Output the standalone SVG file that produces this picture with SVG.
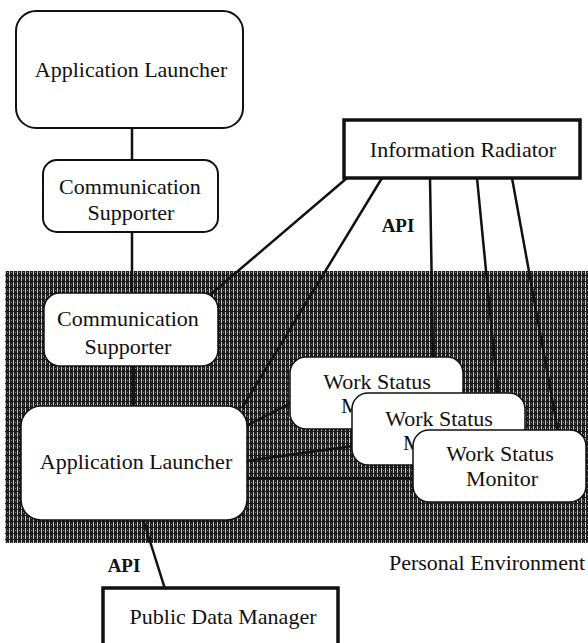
<svg xmlns="http://www.w3.org/2000/svg" width="588" height="643" viewBox="0 0 588 643">
<defs>
<pattern id="hatch" x="0" y="0" width="4" height="6" patternUnits="userSpaceOnUse">
<rect width="4" height="6" fill="#1c1c1c"/>
<rect x="1" y="0" width="1" height="5" fill="#c8c8c8"/>
<rect x="3" y="2" width="1" height="1" fill="#8a8a8a"/>
</pattern>
</defs>
<style>
.t{font-family:"Liberation Serif","Times New Roman",serif;font-size:22px;fill:#111;text-anchor:middle}
.api{font-family:"Liberation Serif","Times New Roman",serif;font-size:19px;font-weight:bold;fill:#111;text-anchor:middle}
.rb{fill:#fff;stroke:#111;stroke-width:2}
.rs{fill:#fff;stroke:#111;stroke-width:1.5}
.sq{fill:#fff;stroke:#111;stroke-width:3.5}
.c{stroke:#111;stroke-width:2.5;fill:none}
</style>
<rect width="588" height="643" fill="#fff"/>
<g id="personal-environment">
<rect x="5" y="271" width="583" height="272" fill="url(#hatch)"/>
<text class="t" x="487" y="570">Personal Environment</text>
</g>
<g id="connectors">
<line class="c" x1="132" y1="128" x2="132" y2="160"/>
<line class="c" x1="132" y1="232" x2="132" y2="294"/>
<line class="c" x1="133" y1="366" x2="133" y2="407"/>
<line class="c" x1="347" y1="178" x2="211" y2="294"/>
<line class="c" x1="382" y1="178" x2="242" y2="408"/>
<line class="c" x1="430" y1="178" x2="433" y2="358"/>
<line class="c" x1="477" y1="178" x2="498" y2="394"/>
<line class="c" x1="512" y1="178" x2="558" y2="431"/>
<line class="c" x1="246" y1="426" x2="291" y2="403"/>
<line class="c" x1="246" y1="461" x2="353" y2="446"/>
<line class="c" x1="246" y1="478" x2="414" y2="478"/>
<line class="c" x1="143" y1="519" x2="165" y2="589"/>
<text class="api" x="398" y="232">API</text>
<text class="api" x="124" y="572">API</text>
</g>
<g id="app-launcher-top">
<rect class="rb" x="16" y="11" width="227" height="117" rx="20"/>
<text class="t" x="131" y="77">Application Launcher</text>
</g>
<g id="comm-supporter-top">
<rect class="rb" x="43" y="160" width="175" height="72" rx="14"/>
<text class="t" x="130" y="194">Communication</text>
<text class="t" x="131" y="220">Supporter</text>
</g>
<g id="information-radiator">
<rect class="sq" x="344" y="120" width="236" height="58"/>
<text class="t" x="463" y="157">Information Radiator</text>
</g>
<g id="comm-supporter-env">
<rect class="rs" x="44" y="293" width="174" height="73" rx="16"/>
<text class="t" x="128" y="326">Communication</text>
<text class="t" x="128" y="354">Supporter</text>
</g>
<g id="app-launcher-env">
<rect class="rs" x="21" y="406" width="226" height="114" rx="20"/>
<text class="t" x="136" y="469">Application Launcher</text>
</g>
<g id="work-status-monitor-1">
<rect class="rs" x="290" y="357" width="173" height="72" rx="16"/>
<text class="t" x="377" y="389">Work Status</text>
<text class="t" x="377" y="413">Monitor</text>
</g>
<g id="work-status-monitor-2">
<rect class="rs" x="352" y="393" width="173" height="72" rx="16"/>
<text class="t" x="439" y="426">Work Status</text>
<text class="t" x="439" y="450">Monitor</text>
</g>
<g id="work-status-monitor-3">
<rect class="rs" x="413" y="430" width="173" height="72" rx="16"/>
<text class="t" x="500" y="461">Work Status</text>
<text class="t" x="502" y="486">Monitor</text>
</g>
<g id="public-data-manager">
<rect class="sq" x="103" y="588" width="235" height="70"/>
<text class="t" x="223" y="624">Public Data Manager</text>
</g>
</svg>
